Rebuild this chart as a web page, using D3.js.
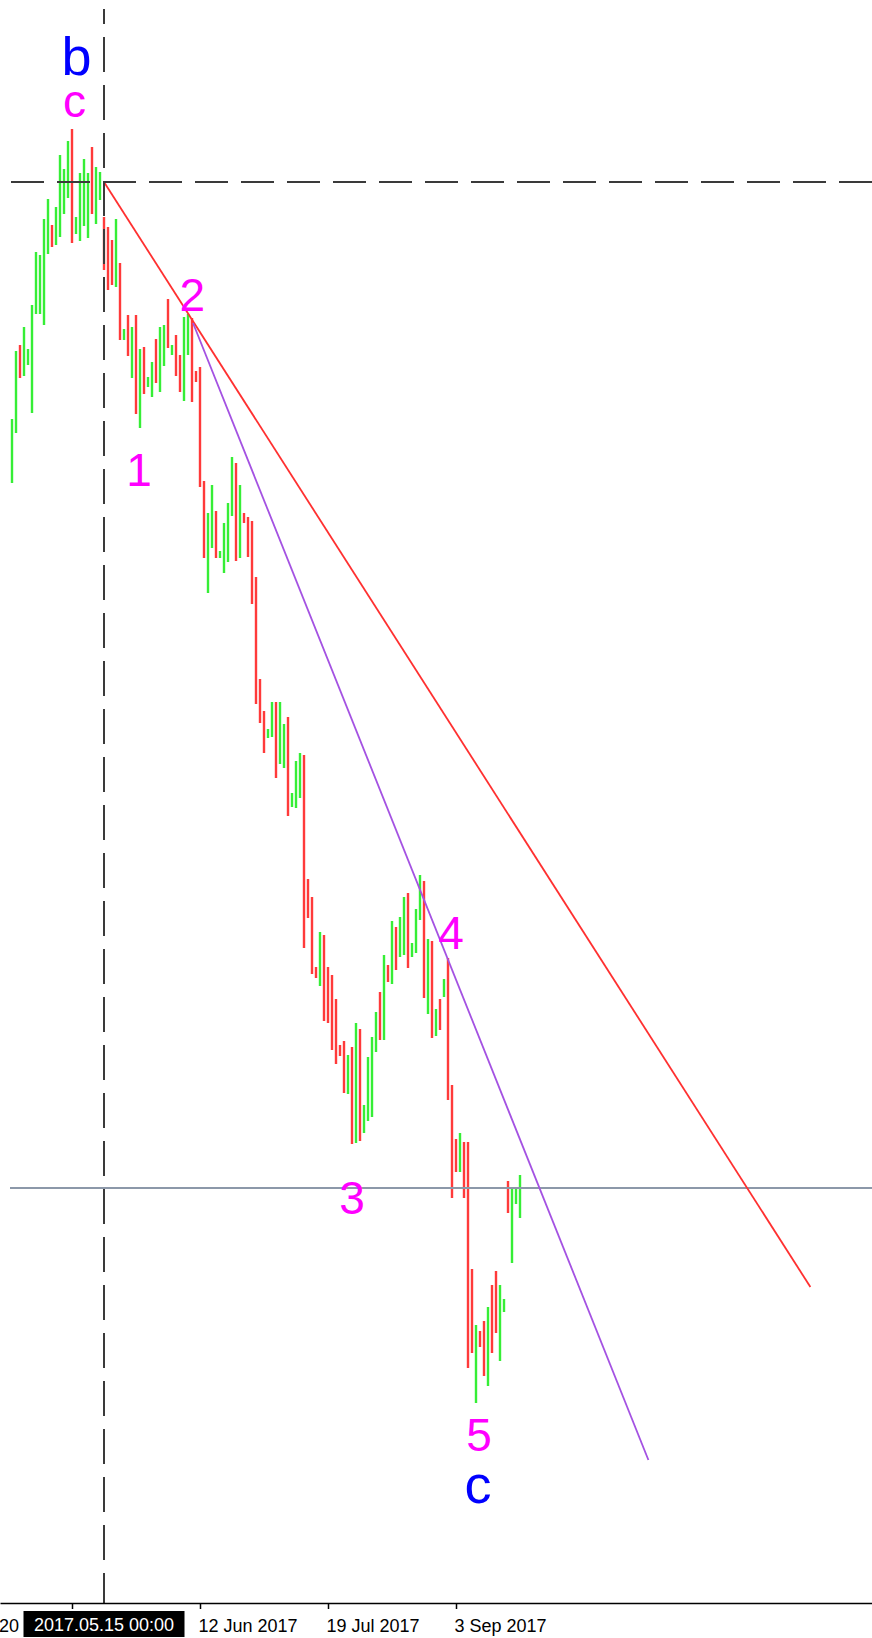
<!DOCTYPE html>
<html>
<head>
<meta charset="utf-8">
<script src="https://cdn.jsdelivr.net/npm/d3@7"></script>
<style>
  html, body { margin: 0; padding: 0; background: #fff; }
  svg { display: block; }
</style>
</head>
<body>
<div id="chart"></div>
<script>
// bar highs / lows (price units), direction 1 = up bar, -1 = down bar
const highs = [
  118.4, 125.2, 125.8, 127.6, 125.4, 129.8, 135.1, 134.8, 138.4, 140.4,
  137.8, 139.6, 144.8, 143.4, 146.2, 147.4, 138.6, 143.0, 144.4, 143.0,
  145.6, 143.6, 143.1, 138.6, 137.6, 136.3, 138.4, 134.0, 127.4, 128.8,
  127.6, 128.8, 125.4, 125.6, 122.6, 124.1, 126.4, 127.6, 127.8, 130.4,
  125.8, 126.8, 124.8, 128.6, 128.9, 128.5, 123.2, 123.6, 112.2, 109.0,
  111.8, 109.2, 105.2, 108.0, 110.0, 114.6, 114.0, 111.8, 109.0, 108.6,
  108.2, 102.6, 92.4, 89.2, 87.4, 90.1, 90.1, 90.1, 87.9, 88.6,
  81.0, 84.2, 85.0, 84.8, 72.4, 70.6, 63.6, 67.1, 66.8, 63.6,
  62.8, 60.4, 55.8, 56.2, 54.8, 55.6, 58.0, 57.4, 49.8, 54.6,
  56.6, 59.1, 61.1, 64.8, 63.8, 68.2, 67.6, 68.6, 70.6, 71.0,
  66.0, 69.4, 72.8, 72.2, 66.4, 66.2, 59.4, 60.4, 62.4, 64.5,
  51.8, 46.4, 47.0, 46.1, 46.1, 33.4, 27.8, 27.2, 28.2, 29.6,
  31.8, 33.2, 31.8, 30.4, 42.2, 41.5, 41.5, 42.8
];
const lows = [
  112.0, 117.0, 122.5, 122.7, 123.8, 119.0, 128.9, 128.9, 127.8, 134.9,
  135.6, 135.8, 136.6, 138.9, 140.5, 136.0, 136.9, 136.2, 137.7, 136.5,
  138.9, 137.9, 140.3, 133.3, 131.3, 131.8, 131.6, 126.3, 126.3, 124.7,
  122.5, 118.9, 117.5, 120.9, 121.6, 120.6, 122.0, 121.1, 123.7, 125.5,
  124.8, 122.7, 121.1, 120.2, 124.8, 120.1, 122.1, 111.6, 104.5, 101.0,
  105.5, 104.5, 104.5, 103.0, 104.1, 108.7, 104.2, 104.5, 108.0, 104.6,
  99.9, 89.9, 88.0, 85.0, 86.5, 86.6, 82.5, 83.9, 83.5, 78.7,
  79.6, 79.5, 80.5, 65.5, 68.5, 62.9, 62.5, 61.7, 58.2, 58.0,
  55.3, 53.9, 54.7, 51.0, 50.9, 45.9, 46.0, 46.2, 47.0, 48.2,
  48.6, 55.1, 56.3, 56.3, 62.1, 61.9, 63.3, 64.6, 64.8, 63.5,
  64.6, 65.0, 68.3, 60.5, 58.9, 56.5, 56.7, 57.3, 60.6, 50.3,
  40.5, 43.1, 43.1, 40.5, 23.5, 25.0, 20.0, 25.6, 22.7, 21.7,
  25.0, 27.0, 24.2, 29.1, 39.0, 34.0, 39.9, 38.5
];
const direction = [
  1, 1, -1, 1, 1, 1, 1, 1, 1, 1,
  -1, 1, 1, 1, 1, -1, 1, 1, 1, 1,
  -1, 1, 1, -1, -1, -1, 1, -1, 1, -1,
  1, -1, 1, -1, 1, 1, -1, 1, 1, -1,
  1, -1, -1, 1, 1, -1, -1, -1, -1, 1,
  1, -1, 1, 1, 1, 1, -1, 1, -1, -1,
  -1, -1, -1, -1, 1, 1, -1, 1, 1, -1,
  1, 1, 1, -1, -1, -1, -1, 1, -1, -1,
  -1, -1, -1, -1, 1, -1, 1, -1, 1, 1,
  1, 1, -1, 1, -1, 1, -1, 1, 1, -1,
  1, 1, 1, -1, 1, -1, 1, -1, 1, -1,
  -1, -1, 1, -1, -1, -1, 1, -1, -1, 1,
  -1, -1, 1, 1, -1, 1, 1, 1
];

// time axis: bar index of each tick and its label
const tickIndex = [15, 47, 79, 111];
const tickLabels = ["", "12 Jun 2017", "19 Jul 2017", "3 Sep 2017"];
const cutLabel = "20";

// crosshair
const crossIndex = 23;
const crossPrice = 142.1;
const crossLabel = "2017.05.15 00:00";

// drawn lines: [bar index, price]
const redTrend = [[23, 142.1], [199.6, 31.6]];
const purpleTrend = [[45.25, 128.0], [159.1, 14.3]];
const levelPrice = 41.5;

// wave labels
const waveText = ["b", "c", "1", "2", "3", "4", "5", "c"];
const waveIndex = [16.1, 15.6, 31.75, 45.1, 85, 109.75, 116.75, 116.5];
const wavePrice = [152.8, 148.6, 111.7, 129.2, 38.9, 65.4, 15.2, 10.0];
const waveDegree = ["major", "minor", "minor", "minor", "minor", "minor", "minor", "major"];

const width = 872;
const height = 1638;
const axisY = 1603;

const x = d3.scaleLinear()
    .domain([-3, 215])
    .range([0, width]);

const y = d3.scaleLinear()
    .domain([0, 160.3])
    .range([axisY, 0]);

const svg = d3.select("#chart")
    .append("svg")
    .attr("width", width)
    .attr("height", height);

const upColor = "#36ee36";
const downColor = "#ff3a3a";

// bars
svg.append("g")
    .selectAll("line")
    .data(highs)
    .join("line")
    .attr("x1", (d, i) => x(i))
    .attr("x2", (d, i) => x(i))
    .attr("y1", d => y(d))
    .attr("y2", (d, i) => y(lows[i]))
    .attr("stroke", (d, i) => direction[i] > 0 ? upColor : downColor)
    .attr("stroke-width", 2.4);

// horizontal level
svg.append("line")
    .attr("x1", 10)
    .attr("x2", width)
    .attr("y1", y(levelPrice))
    .attr("y2", y(levelPrice))
    .attr("stroke", "#8c98a9")
    .attr("stroke-width", 2);

const trend = d3.line()
    .x(d => x(d[0]))
    .y(d => y(d[1]));

svg.append("path")
    .datum(redTrend)
    .attr("fill", "none")
    .attr("stroke", "#ff3030")
    .attr("stroke-width", 1.8)
    .attr("d", trend);

svg.append("path")
    .datum(purpleTrend)
    .attr("fill", "none")
    .attr("stroke", "#a452e2")
    .attr("stroke-width", 1.8)
    .attr("d", trend);

// crosshair
svg.append("line")
    .attr("x1", 11)
    .attr("x2", width)
    .attr("y1", y(crossPrice))
    .attr("y2", y(crossPrice))
    .attr("stroke", "#3a3a3a")
    .attr("stroke-width", 2)
    .attr("stroke-dasharray", "33,13");

svg.append("line")
    .attr("x1", x(crossIndex))
    .attr("x2", x(crossIndex))
    .attr("y1", 9)
    .attr("y2", axisY)
    .attr("stroke", "#3a3a3a")
    .attr("stroke-width", 2)
    .attr("stroke-dasharray", "35,13")
    .attr("stroke-dashoffset", 20);

// wave labels
svg.append("g")
    .selectAll("text")
    .data(waveText)
    .join("text")
    .attr("x", (d, i) => x(waveIndex[i]))
    .attr("y", (d, i) => y(wavePrice[i]))
    .attr("text-anchor", "middle")
    .style("font-family", "'Liberation Sans', Arial, sans-serif")
    .style("font-size", (d, i) => waveDegree[i] === "major" ? "54px" : "46px")
    .attr("fill", (d, i) => waveDegree[i] === "major" ? "#0000ff" : "#ff00ff")
    .text(d => d);

// time axis
const xAxis = svg.append("g")
    .attr("transform", `translate(0,${axisY})`)
    .call(d3.axisBottom(x)
        .tickValues(tickIndex)
        .tickFormat((d, k) => tickLabels[k])
        .tickSize(6)
        .tickSizeOuter(0));

xAxis.select(".domain")
    .attr("stroke", "#000")
    .attr("stroke-width", 1.5);

xAxis.selectAll(".tick line")
    .attr("stroke", "#000")
    .attr("stroke-width", 1.5);

xAxis.selectAll(".tick text")
    .attr("text-anchor", "start")
    .attr("x", -2)
    .attr("y", 29)
    .attr("dy", 0)
    .attr("fill", "#000")
    .style("font-family", "'Liberation Sans', Arial, sans-serif")
    .style("font-size", "18px");

// left edge of a label that runs off the chart
svg.append("text")
    .attr("x", -1)
    .attr("y", axisY + 29)
    .attr("fill", "#000")
    .style("font-family", "'Liberation Sans', Arial, sans-serif")
    .style("font-size", "18px")
    .text(cutLabel);

// crosshair date box
const boxW = 161;
svg.append("rect")
    .attr("x", x(crossIndex) - boxW / 2)
    .attr("y", axisY + 8)
    .attr("width", boxW)
    .attr("height", 26)
    .attr("fill", "#000");

svg.append("text")
    .attr("x", x(crossIndex))
    .attr("y", axisY + 28)
    .attr("text-anchor", "middle")
    .attr("fill", "#fff")
    .style("font-family", "'Liberation Sans', Arial, sans-serif")
    .style("font-size", "18px")
    .text(crossLabel);
</script>
</body>
</html>
